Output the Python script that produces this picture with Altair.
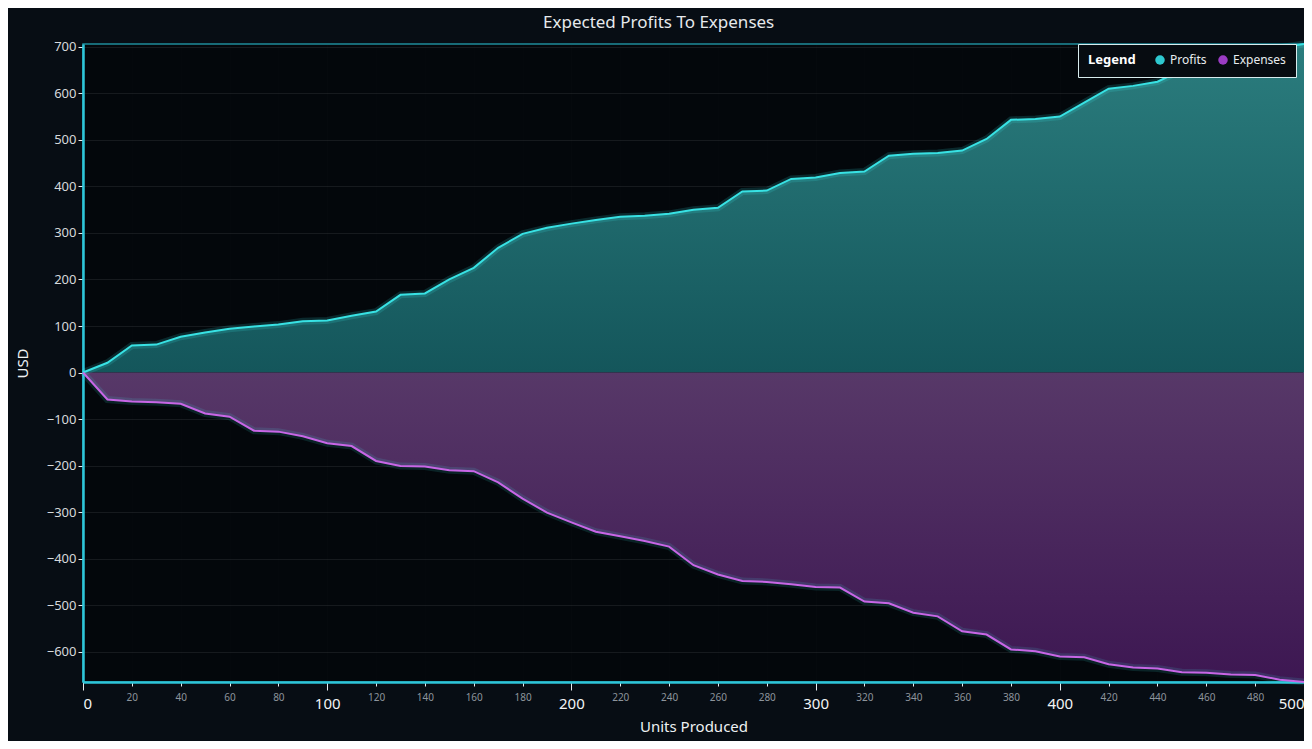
import altair as alt
import pandas as pd

units = list(range(0, 501, 10))
profits = [0, 21, 58, 60, 77, 86, 94, 99, 103, 110, 112, 122, 131, 167, 170, 200, 225, 268, 298, 311,
           320, 328, 335, 337, 341, 350, 354, 389, 391, 416, 419, 429, 432, 466, 470, 472, 477, 502,
           543, 545, 550, 580, 610, 616, 625, 650, 665, 676, 688, 698, 706]
expenses = [0, -58, -62, -64, -67, -88, -95, -125, -127, -137, -152, -158, -190, -201, -202, -210, -212,
            -236, -271, -301, -322, -342, -352, -362, -374, -414, -434, -448, -450, -455, -461, -462,
            -492, -496, -516, -524, -556, -563, -595, -599, -610, -612, -627, -634, -636, -644, -645,
            -649, -650, -660, -665]
series_names = ["Profits", "Expenses"]
series_colors = ["#2ec9d0", "#9b3cc4"]
x_ticks = list(range(0, 501, 20))
y_ticks = list(range(-600, 701, 100))

df = pd.DataFrame({"units": units, "Profits": profits, "Expenses": expenses})
long_df = df.melt("units", var_name="series", value_name="usd")

FONT = "Noto Sans"

x_enc = alt.X("units:Q", scale=alt.Scale(domain=[0, 500], nice=False, zero=False),
              axis=alt.Axis(values=x_ticks, title="Units Produced",
                            labelFontSize={"condition": {"test": "datum.value % 100 === 0", "value": 15}, "value": 10},
                            labelColor={"condition": {"test": "datum.value % 100 === 0", "value": "#f2f4f6"}, "value": "#8d949c"},
                            tickSize={"condition": {"test": "datum.value % 100 === 0", "value": 8}, "value": 4},
                            gridOpacity={"condition": {"test": "datum.value % 100 === 0", "value": 0.15}, "value": 0.08},
                            labelPadding=6, titlePadding=8))
y_scale = alt.Scale(domain=[-665, 706], nice=False, zero=False)
y_axis = alt.Axis(values=y_ticks, title="USD", labelFontSize=13, labelColor="#d6d9dc",
                  tickSize=5, titlePadding=16)

base = alt.Chart(df)

profit_area = base.mark_area(
    color=alt.Gradient(gradient="linear",
                       stops=[alt.GradientStop(color="#2b7d7e", offset=0),
                              alt.GradientStop(color="#14565b", offset=1)],
                       x1=1, x2=1, y1=0, y2=1)
).encode(x=x_enc, y=alt.Y("Profits:Q", scale=y_scale, axis=y_axis), y2=alt.datum(0))

expense_area = base.mark_area(
    color=alt.Gradient(gradient="linear",
                       stops=[alt.GradientStop(color="#573868", offset=0),
                              alt.GradientStop(color="#3d1752", offset=1)],
                       x1=1, x2=1, y1=0, y2=1)
).encode(x=x_enc, y=alt.Y("Expenses:Q", scale=y_scale, axis=y_axis), y2=alt.datum(0))

profit_glow = base.mark_line(color="#3ff0f0", strokeWidth=7, opacity=0.15).encode(
    x=x_enc, y=alt.Y("Profits:Q", scale=y_scale, axis=y_axis))
expense_glow = base.mark_line(color="#3ff0f0", strokeWidth=7, opacity=0.12).encode(
    x=x_enc, y=alt.Y("Expenses:Q", scale=y_scale, axis=y_axis))
profit_line = base.mark_line(color="#38e2e4", strokeWidth=2).encode(
    x=x_enc, y=alt.Y("Profits:Q", scale=y_scale, axis=y_axis))
expense_line = base.mark_line(color="#c866e6", strokeWidth=2).encode(
    x=x_enc, y=alt.Y("Expenses:Q", scale=y_scale, axis=y_axis))

legend_layer = alt.Chart(long_df).mark_circle(opacity=0, size=1).encode(
    x=x_enc, y=alt.Y("usd:Q", scale=y_scale, axis=y_axis),
    color=alt.Color("series:N",
                    scale=alt.Scale(domain=series_names, range=series_colors),
                    legend=alt.Legend(title="Legend", orient="none", legendX=995, legendY=0,
                                      direction="horizontal", titleOrient="left",
                                      symbolOpacity=1, symbolType="circle", symbolSize=90,
                                      symbolStrokeWidth=0,
                                      fillColor="#070c11", strokeColor="#d8ecee",
                                      padding=10, titlePadding=18, columnPadding=10,
                                      labelColor="#e8ecef", labelFontSize=12, labelFont=FONT,
                                      titleColor="#ffffff", titleFontSize=13, titleFont=FONT,
                                      titleFontWeight="bold")))

chart = alt.layer(profit_area, expense_area, profit_glow, expense_glow,
                  profit_line, expense_line, legend_layer).properties(
    width=1221, height=638,
    title=alt.TitleParams("Expected Profits To Expenses", fontSize=17, font=FONT,
                          color="#e6e9ec", fontWeight="normal", anchor="middle",
                          frame="bounds", offset=0, dx=-8, dy=2),
    background="#070d14",
    autosize=alt.AutoSizeParams(type="none"),
    padding={"left": 75, "top": 36, "right": 0, "bottom": 59},
).configure_view(
    fill="#03070b", stroke="#1f8c9a", strokeWidth=1.5
).configure_axis(
    domainColor="#2ec5d8", domainWidth=2.5, tickColor="#e8ecef",
    gridColor="#ffffff", gridOpacity=0.08, zindex=1,
    labelFont=FONT, titleFont=FONT, titleColor="#eef1f3", titleFontSize=15,
    titleFontWeight="normal"
)

chart.save("out.html", embed_options={"renderer": "svg", "actions": False})
